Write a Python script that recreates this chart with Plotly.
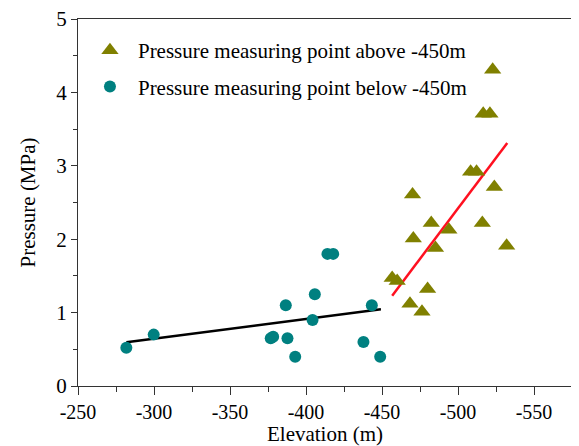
import plotly.graph_objects as go

# Points above -450 m (triangles)
above_elev = [-456.7, -460.0, -468.4, -470.1, -470.6, -476.3, -480.0, -482.4, -485.2,
              -494.0, -508.3, -512.2, -516.0, -516.6, -521.0, -522.8, -523.9, -532.0]
above_pres = [1.47, 1.43, 1.12, 2.61, 2.01, 1.01, 1.32, 2.22, 1.88,
              2.13, 2.92, 2.92, 2.22, 3.71, 3.71, 4.31, 2.71, 1.91]

# Points below -450 m (circles)
below_elev = [-281.8, -299.8, -376.8, -378.4, -386.7, -387.8, -392.9, -404.3, -405.8,
              -414.1, -417.9, -437.8, -443.3, -448.8]
below_pres = [0.52, 0.70, 0.65, 0.67, 1.10, 0.65, 0.40, 0.90, 1.25,
              1.80, 1.80, 0.60, 1.10, 0.40]

# fitted trend lines (end points)
fit_below_x = [-281.8, -449.3]
fit_below_y = [0.595, 1.045]
fit_above_x = [-456.7, -532.4]
fit_above_y = [1.23, 3.31]

x_ticks = [-250, -300, -350, -400, -450, -500, -550]
x_labels = ["-250", "-300", "-350", "-400", "-450", "-500", "-550"]

font = "Liberation Serif, Times New Roman, serif"

fig = go.Figure()
fig.add_trace(go.Scatter(
    x=fit_below_x, y=fit_below_y, mode="lines",
    line=dict(color="black", width=2.5), showlegend=False
))
fig.add_trace(go.Scatter(
    x=fit_above_x, y=fit_above_y, mode="lines",
    line=dict(color="#ff1020", width=2.5), showlegend=False
))
fig.add_trace(go.Scatter(
    x=above_elev, y=above_pres, mode="markers",
    name="Pressure measuring point above -450m", legendgroup="a",
    marker=dict(symbol="triangle-up", size=15, color="#808000")
))
fig.add_trace(go.Scatter(
    x=below_elev, y=below_pres, mode="markers",
    name="Pressure measuring point below -450m", legendgroup="b",
    marker=dict(symbol="circle", size=12, color="#008080")
))

axis_common = dict(
    showline=True, linecolor="#333", linewidth=1.2, mirror=True,
    ticks="outside", tickcolor="#333", showgrid=False, zeroline=False,
    ticklabeloverflow="allow",
)

# the page body has an 8px margin, so the figure is a bit smaller than the window
fig.update_layout(
    width=571, height=438,
    margin=dict(l=70, r=7, t=11, b=60),
    plot_bgcolor="white", paper_bgcolor="white",
    font=dict(family=font, size=21, color="black"),
    xaxis=dict(
        range=[-250, -575], tickvals=x_ticks, ticktext=x_labels,
        ticklen=8, minor=dict(dtick=25, ticks="outside", ticklen=5, tickcolor="#333"),
        tickfont=dict(family=font, size=20, color="black"),
        title=dict(text="Elevation (m)", font=dict(family=font, size=21), standoff=0),
        automargin="bottom",
        **axis_common
    ),
    yaxis=dict(
        range=[0, 5], dtick=1, ticklen=6,
        minor=dict(dtick=0.5, ticks="outside", ticklen=4, tickcolor="#333"),
        tickfont=dict(family=font, size=21, color="black"),
        title=dict(text="Pressure (MPa)", font=dict(family=font, size=21), standoff=14),
        automargin="left",
        **axis_common
    ),
    legend=dict(
        x=0.008, y=0.97, xanchor="left", yanchor="top",
        font=dict(family=font, size=21), bgcolor="rgba(0,0,0,0)",
        tracegroupgap=6, itemwidth=46,
    ),
)

fig.write_html("out.html")
